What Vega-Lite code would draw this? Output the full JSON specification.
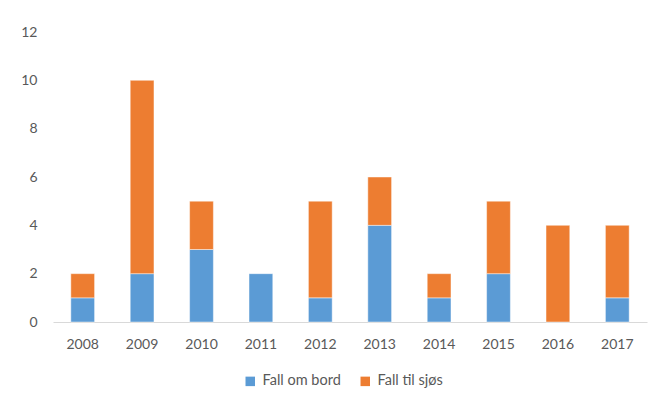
{
  "$schema": "https://vega.github.io/schema/vega-lite/v6.json",
  "width": 594,
  "height": 290,
  "autosize": {"type": "none"},
  "padding": {"left": 53, "top": 32, "right": 15, "bottom": 79},
  "background": "white",
  "config": {
    "view": {"stroke": null},
    "font": "Lato",
    "axis": {"labelFont": "Lato", "labelFontSize": 14, "labelColor": "#595959", "ticks": false, "grid": false, "title": null},
    "legend": {"labelFont": "Lato", "labelFontSize": 14.5, "labelColor": "#595959"}
  },
  "data": {
    "values": [
      {"year": "2008", "type": "Fall om bord", "n": 1},
      {"year": "2008", "type": "Fall til sjøs", "n": 1},
      {"year": "2009", "type": "Fall om bord", "n": 2},
      {"year": "2009", "type": "Fall til sjøs", "n": 8},
      {"year": "2010", "type": "Fall om bord", "n": 3},
      {"year": "2010", "type": "Fall til sjøs", "n": 2},
      {"year": "2011", "type": "Fall om bord", "n": 2},
      {"year": "2012", "type": "Fall om bord", "n": 1},
      {"year": "2012", "type": "Fall til sjøs", "n": 4},
      {"year": "2013", "type": "Fall om bord", "n": 4},
      {"year": "2013", "type": "Fall til sjøs", "n": 2},
      {"year": "2014", "type": "Fall om bord", "n": 1},
      {"year": "2014", "type": "Fall til sjøs", "n": 1},
      {"year": "2015", "type": "Fall om bord", "n": 2},
      {"year": "2015", "type": "Fall til sjøs", "n": 3},
      {"year": "2016", "type": "Fall til sjøs", "n": 4},
      {"year": "2017", "type": "Fall om bord", "n": 1},
      {"year": "2017", "type": "Fall til sjøs", "n": 3}
    ]
  },
  "mark": {"type": "bar", "stroke": "#ffffff", "strokeWidth": 0.75, "strokeOpacity": 0.6},
  "encoding": {
    "x": {
      "field": "year", "type": "ordinal",
      "scale": {"paddingInner": 0.6, "paddingOuter": 0.3},
      "axis": {"labelAngle": 0, "domainColor": "#d9d9d9", "domainWidth": 1, "labelPadding": 15}
    },
    "y": {
      "field": "n", "type": "quantitative", "stack": "zero",
      "scale": {"domain": [0, 12], "nice": false},
      "axis": {"values": [0, 2, 4, 6, 8, 10, 12], "domain": false, "labelPadding": 16}
    },
    "color": {
      "field": "type", "type": "nominal",
      "scale": {"domain": ["Fall om bord", "Fall til sjøs"], "range": ["#5B9BD5", "#ED7D31"]},
      "legend": {"title": null, "orient": "none", "legendX": 190, "legendY": 342, "direction": "horizontal", "symbolType": "square", "symbolSize": 90, "symbolStrokeWidth": 0, "columnPadding": 17, "labelOffset": 5}
    },
    "order": {"field": "type", "sort": "ascending"}
  }
}
